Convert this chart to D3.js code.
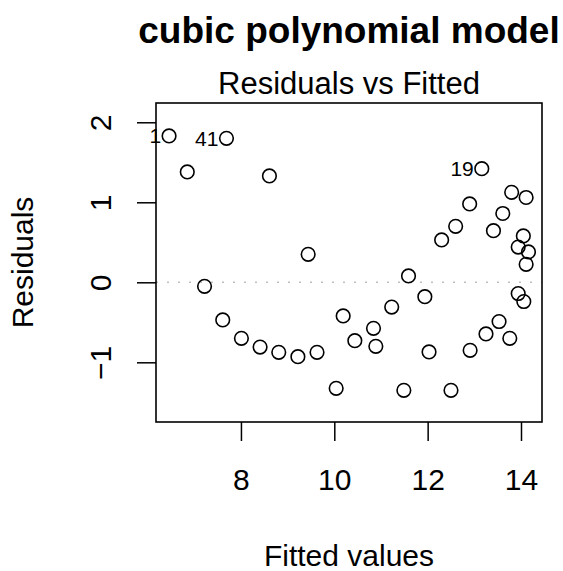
<!DOCTYPE html>
<html lang="en">
<head>
<meta charset="UTF-8">
<title>cubic polynomial model</title>
<script src="https://d3js.org/d3.v7.min.js"></script>
<style>
    body { margin: 0; background: #fff; }
    svg text { font-family: "Liberation Sans", Arial, Helvetica, sans-serif; fill: #000; }
</style>
</head>
<body>
<div id="chart"></div>
<script>
// data
const fitted = [6.46, 6.85, 7.22, 7.61, 7.69, 8.01, 8.41, 8.61, 8.81, 9.22, 9.44, 9.63, 10.04, 10.19,
    10.44, 10.84, 10.89, 11.23, 11.49, 11.59, 11.94, 12.03, 12.30, 12.50, 12.60, 12.90, 12.91,
    13.16, 13.25, 13.41, 13.53, 13.61, 13.76, 13.80, 13.94, 13.94, 14.05, 14.06, 14.11, 14.11, 14.16];
const residuals = [1.83, 1.38, -0.05, -0.47, 1.80, -0.70, -0.81, 1.33, -0.875, -0.93, 0.35, -0.875, -1.325, -0.42,
    -0.73, -0.575, -0.80, -0.31, -1.35, 0.08, -0.18, -0.87, 0.53, -1.35, 0.70, 0.98, -0.85,
    1.42, -0.645, 0.645, -0.49, 0.86, -0.70, 1.125, 0.44, -0.14, 0.58, -0.24, 1.06, 0.225, 0.38];
const idLabels = ["1", "", "", "", "41", "", "", "", "", "", "", "", "", "",
    "", "", "", "", "", "", "", "", "", "", "", "", "",
    "19", "", "", "", "", "", "", "", "", "", "", "", "", ""];
const xTicks = [8, 10, 12, 14];
const yTicks = [-1, 0, 1, 2];

const W = 563, H = 571;
const plot = { left: 156, right: 542, top: 103, bottom: 422 };
const fs = 30;

const svg = d3.select("#chart").append("svg")
    .attr("width", W).attr("height", H);

const x = d3.scaleLinear().domain([6.18, 14.45]).range([plot.left, plot.right]);
const y = d3.scaleLinear().domain([-1.746, 2.241]).range([plot.bottom, plot.top]);

const cx = (plot.left + plot.right) / 2;
const cy = (plot.top + plot.bottom) / 2;

// titles
svg.append("text")
    .attr("x", cx).attr("y", 43)
    .attr("text-anchor", "middle")
    .style("font-size", "37px").style("font-weight", "bold")
    .text("cubic polynomial model");

svg.append("text")
    .attr("x", cx).attr("y", 94)
    .attr("text-anchor", "middle")
    .style("font-size", "31px")
    .text("Residuals vs Fitted");

// zero reference line
svg.append("line")
    .attr("x1", plot.left).attr("x2", plot.right)
    .attr("y1", y(0)).attr("y2", y(0))
    .attr("stroke", "#bebebe").attr("stroke-width", 1.4)
    .attr("stroke-dasharray", "2,9");

// x axis
const xAxis = svg.append("g")
    .attr("transform", `translate(0,${plot.bottom})`)
    .call(d3.axisBottom(x).tickValues(xTicks).tickSize(19).tickPadding(0).tickFormat(d3.format("d")));
xAxis.select(".domain").remove();
xAxis.selectAll(".tick line").attr("stroke", "#000").attr("stroke-width", 1.5);
xAxis.selectAll(".tick text")
    .attr("y", 68).attr("dy", null)
    .style("font-size", fs + "px")
    .attr("font-family", null);

// y axis (labels rotated like R)
const yAxis = svg.append("g")
    .attr("transform", `translate(${plot.left},0)`)
    .call(d3.axisLeft(y).tickValues(yTicks).tickSize(19).tickFormat(d => d < 0 ? "\u2212" + Math.abs(d) : d));
yAxis.select(".domain").remove();
yAxis.selectAll(".tick line").attr("stroke", "#000").attr("stroke-width", 1.5);
yAxis.selectAll(".tick text")
    .attr("x", null).attr("dy", null)
    .attr("text-anchor", "middle")
    .attr("transform", "translate(-45,0) rotate(-90)")
    .style("font-size", fs + "px");

// box
svg.append("rect")
    .attr("x", plot.left).attr("y", plot.top)
    .attr("width", plot.right - plot.left).attr("height", plot.bottom - plot.top)
    .attr("fill", "none").attr("stroke", "#000").attr("stroke-width", 1.6);

// axis titles
svg.append("text")
    .attr("x", cx).attr("y", 566)
    .attr("text-anchor", "middle")
    .style("font-size", fs + "px")
    .text("Fitted values");

svg.append("text")
    .attr("transform", `translate(33,${cy}) rotate(-90)`)
    .attr("text-anchor", "middle")
    .style("font-size", fs + "px")
    .text("Residuals");

// points
const pts = fitted.map((f, i) => ({ f: f, r: residuals[i], id: idLabels[i] }));

svg.append("g").selectAll("circle")
    .data(pts)
    .join("circle")
    .attr("cx", d => x(d.f))
    .attr("cy", d => y(d.r))
    .attr("r", 6.8)
    .attr("fill", "none")
    .attr("stroke", "#000")
    .attr("stroke-width", 1.6);

svg.append("g").selectAll("text")
    .data(pts.filter(d => d.id !== ""))
    .join("text")
    .attr("x", d => x(d.f) - 8)
    .attr("y", d => y(d.r) + 7.5)
    .attr("text-anchor", "end")
    .style("font-size", "21px")
    .text(d => d.id);
</script>
</body>
</html>
